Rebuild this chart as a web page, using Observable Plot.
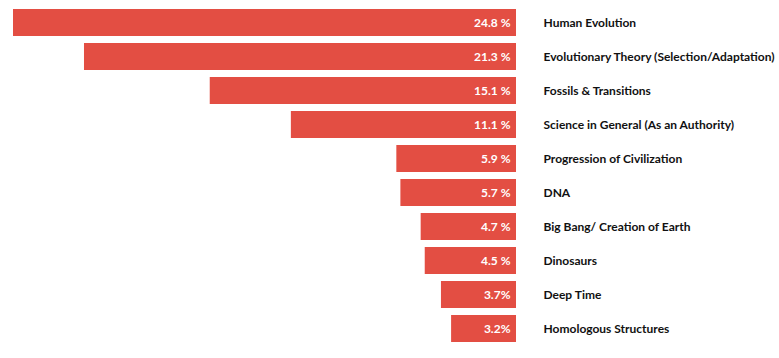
<!DOCTYPE html>
<html>
<head>
<meta charset="utf-8">
<script src="https://cdn.jsdelivr.net/npm/d3@7"></script>
<script src="https://cdn.jsdelivr.net/npm/@observablehq/plot@0.6"></script>
<style>
  html, body { margin: 0; padding: 0; background: #fff; }
  #chart { width: 779px; height: 358px; }
</style>
</head>
<body>
<div id="chart"></div>
<script>
const categories = [
  "Human Evolution",
  "Evolutionary Theory (Selection/Adaptation)",
  "Fossils & Transitions",
  "Science in General (As an Authority)",
  "Progression of Civilization",
  "DNA",
  "Big Bang/ Creation of Earth",
  "Dinosaurs",
  "Deep Time",
  "Homologous Structures"
];
const values = [24.8, 21.3, 15.1, 11.1, 5.9, 5.7, 4.7, 4.5, 3.7, 3.2];
const valueLabels = ["24.8 %", "21.3 %", "15.1 %", "11.1 %", "5.9 %", "5.7 %", "4.7 %", "4.5 %", "3.7%", "3.2%"];

const data = categories.map((c, i) => ({category: c, value: values[i], label: valueLabels[i]}));

const chart = Plot.plot({
  width: 779,
  height: 358,
  margin: 0,
  style: {fontFamily: "Lato, sans-serif", background: "#fff"},
  x: {domain: [0, 24.8], range: [516, 13], axis: null},
  y: {domain: categories, range: [7, 343.7], paddingInner: 0.215, paddingOuter: 0, axis: null},
  marks: [
    Plot.barX(data, {x: "value", y: "category", fill: "#e34e43"}),
    Plot.text(data, {x: 0, y: "category", text: "label", textAnchor: "end", dx: -6, fill: "#fff", fontWeight: "bold", fontSize: 12}),
    Plot.text(data, {x: 0, y: "category", text: "category", textAnchor: "start", dx: 27, fill: "#111", fontWeight: "bold", fontSize: 12})
  ]
});
document.getElementById("chart").appendChild(chart);
</script>
</body>
</html>
